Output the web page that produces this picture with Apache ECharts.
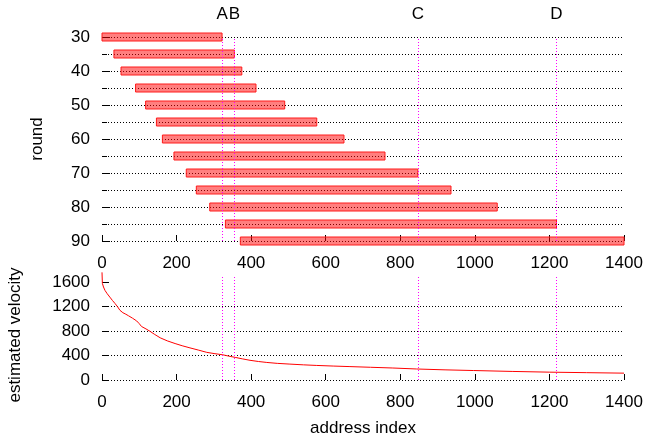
<!DOCTYPE html>
<html>
<head>
<meta charset="utf-8">
<script src="https://cdn.jsdelivr.net/npm/echarts@6/dist/echarts.min.js"></script>
<style>
  html, body { margin: 0; padding: 0; background: #fff; }
  #chart { width: 647px; height: 441px; }
</style>
</head>
<body>
<div id="chart"></div>
<script>
// rounds and the address range covered in each
const rounds = [30, 35, 40, 45, 50, 55, 60, 65, 70, 75, 80, 85, 90]
const startAddr = [0, 32, 51, 90, 117, 146, 162, 193, 226, 253, 289, 331, 371]
const endAddr = [322, 355, 375, 413, 490, 576, 649, 759, 847, 936, 1060, 1219, 1400]

// marker lines
const markNames = ['A', 'B', 'C', 'D']
const markAddr = [322, 355, 847, 1219]

// estimated velocity curve
const velAddr = [0, 1, 4, 8, 14, 21, 28, 35, 42, 48, 56, 64, 71, 82, 93, 100, 106, 118, 129, 140,
    156, 175, 196, 215, 236, 258, 281, 303, 324, 340, 357, 377, 397, 420, 442, 470, 504, 540, 576,
    620, 665, 720, 780, 844, 920, 996, 1100, 1201, 1300, 1400]
const velValue = [1760, 1580, 1520, 1465, 1410, 1355, 1300, 1250, 1195, 1140, 1100, 1075, 1050, 1010,
    965, 920, 875, 835, 795, 750, 690, 640, 596, 560, 525, 490, 452, 430, 412, 390, 370, 345, 322,
    302, 287, 272, 260, 248, 238, 228, 219, 208, 196, 180, 166, 155, 140, 128, 120, 112]

const xTicks = [0, 200, 400, 600, 800, 1000, 1200, 1400]
const velTicks = [0, 400, 800, 1200, 1600]
const velTop = 1700

const font = 'Liberation Sans, Arial, sans-serif'
const dotted = { color: '#000', width: 1, type: [1, 2] }
const magenta = { color: '#ff00ff', width: 1, type: [1, 2] }
const plain = v => String(v)

const chart = echarts.init(document.getElementById('chart'))

const barData = rounds.map((r, i) => [startAddr[i], endAddr[i], r])

const xAxisBase = (gridIndex) => ({
    type: 'value',
    gridIndex,
    min: xTicks[0],
    max: xTicks[xTicks.length - 1],
    interval: xTicks[1] - xTicks[0],
    axisLine: { show: false },
    axisTick: { show: true, inside: true, length: 6, lineStyle: { color: '#000' } },
    axisLabel: { fontFamily: font, fontSize: 17, color: '#000', margin: 14, formatter: plain },
    splitLine: { show: false }
})

const option = {
    animation: false,
    grid: [
        { left: 102, right: 23, top: 37, height: 204 },
        { left: 102, right: 23, top: 276, height: 104 }
    ],
    xAxis: [xAxisBase(0), xAxisBase(1)],
    yAxis: [
        {
            type: 'value',
            gridIndex: 0,
            inverse: true,
            min: 30,
            max: 90,
            interval: 10,
            axisLine: { show: false },
            axisTick: { show: true, inside: true, length: 8, lineStyle: { color: '#000' } },
            minorTick: { show: true, splitNumber: 2, length: 5, lineStyle: { color: '#000' } },
            minorSplitLine: { show: true, lineStyle: dotted },
            splitLine: { show: true, lineStyle: dotted },
            axisLabel: { fontFamily: font, fontSize: 17, color: '#000', margin: 12, formatter: plain }
        },
        {
            type: 'value',
            gridIndex: 1,
            min: 0,
            max: velTop,
            interval: 400,
            axisLine: { show: false },
            axisTick: { show: true, inside: true, length: 7, lineStyle: { color: '#000' }, customValues: velTicks },
            splitLine: { show: true, lineStyle: dotted, showMaxLine: false },
            axisLabel: {
                fontFamily: font, fontSize: 17, color: '#000', margin: 12,
                customValues: velTicks,
                formatter: v => (v % 400 === 0 ? String(v) : '')
            }
        }
    ],
    graphic: [
        {
            type: 'text', x: 37, y: 139, rotation: Math.PI / 2,
            style: { text: 'round', font: '17px ' + font, fill: '#000', align: 'center', verticalAlign: 'middle' }
        },
        {
            type: 'text', x: 15, y: 335, rotation: Math.PI / 2,
            style: { text: 'estimated velocity', font: '17px ' + font, fill: '#000', align: 'center', verticalAlign: 'middle' }
        },
        {
            type: 'text', x: 363, y: 428,
            style: { text: 'address index', font: '17px ' + font, fill: '#000', align: 'center', verticalAlign: 'middle' }
        }
    ],
    series: [
        {
            type: 'custom',
            xAxisIndex: 0,
            yAxisIndex: 0,
            data: barData,
            renderItem(params, api) {
                const s = api.coord([api.value(0), api.value(2)])
                const e = api.coord([api.value(1), api.value(2)])
                return {
                    type: 'rect',
                    shape: { x: s[0], y: s[1] - 4, width: e[0] - s[0], height: 8 },
                    style: { fill: 'rgba(255,0,0,0.5)', stroke: '#ff1a1a', lineWidth: 1 }
                }
            },
            markLine: {
                silent: true,
                symbol: 'none',
                lineStyle: magenta,
                label: {
                    show: true, position: 'end', distance: 14,
                    fontFamily: font, fontSize: 17, color: '#000',
                    formatter: p => p.name
                },
                data: markAddr.map((a, i) => [
                    { name: markNames[i], coord: [a, 90] },
                    { coord: [a, 30] }
                ])
            }
        },
        {
            type: 'line',
            xAxisIndex: 1,
            yAxisIndex: 1,
            data: velAddr.map((a, i) => [a, velValue[i]]),
            showSymbol: false,
            clip: false,
            lineStyle: { color: '#ff0000', width: 1 },
            markLine: {
                silent: true,
                symbol: 'none',
                lineStyle: magenta,
                label: { show: false },
                data: markAddr.map(a => [{ coord: [a, 0] }, { coord: [a, velTop] }])
            }
        }
    ]
}

chart.setOption(option)
</script>
</body>
</html>
